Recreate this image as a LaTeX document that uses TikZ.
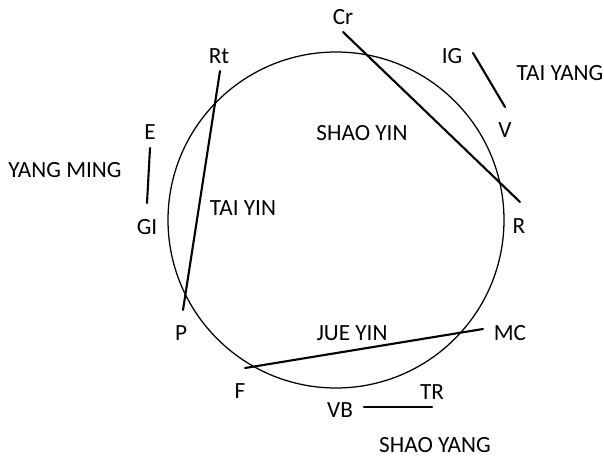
\documentclass[tikz,border=0pt]{standalone}
\usepackage{fontspec}
\setmainfont{Carlito}
\usetikzlibrary{calc}

\begin{document}
\begin{tikzpicture}[x=0.025cm,y=-0.025cm,
      every node/.style={font=\fontsize{16.5}{19}\selectfont,inner sep=1pt},
      chord/.style={line width=1.5pt,line cap=round},
      ring/.style={line width=0.9pt}
    ]
      \useasboundingbox (0,0) rectangle (604,459);

      \draw[ring] (336,220) circle[radius=168];

      % labels round the circle
      \node (cr) at (343,17) {Cr};
      \node (rt) at (219,56) {Rt};
      \node (ig) at (452,56) {IG};
      \node (v)  at (505,130) {V};
      \node (r)  at (519,226) {R};
      \node (e)  at (150,132) {E};
      \node (gi) at (147,227) {GI};
      \node (p)  at (181,333) {P};
      \node (mc) at (510,333) {MC};
      \node (f)  at (240,391) {F};
      \node (tr) at (432,392) {TR};
      \node (vb) at (340,410) {VB};

      % channel names
      \node (taiyang)  at (560,73)  {TAI YANG};
      \node (shaoyin)  at (362,133) {SHAO YIN};
      \node (yangming) at (65,170)  {YANG MING};
      \node (taiyin)   at (243,208) {TAI YIN};
      \node (jueyin)   at (352,333) {JUE YIN};
      \node (shaoyang) at (435,445) {SHAO YANG};

      % line ends
      \coordinate (crEnd) at (343,32);
      \coordinate (rEnd)  at (520,202);
      \coordinate (igEnd) at (473,53);
      \coordinate (vEnd)  at (505,107);
      \coordinate (rtEnd) at (220,71);
      \coordinate (pEnd)  at (183,310);
      \coordinate (eEnd)  at (150,148);
      \coordinate (giEnd) at (147,203);
      \coordinate (fEnd)  at (245,368);
      \coordinate (mcEnd) at (483,329);
      \coordinate (vbEnd) at (364,407);
      \coordinate (trEnd) at (432,407);

      \draw[chord] (crEnd) -- (rEnd);
      \draw[chord] (igEnd) -- (vEnd);
      \draw[chord] (rtEnd) -- (pEnd);
      \draw[chord] (eEnd) -- (giEnd);
      \draw[chord] (fEnd) -- (mcEnd);
      \draw[chord] (vbEnd) -- (trEnd);
    \end{tikzpicture}
\end{document}
